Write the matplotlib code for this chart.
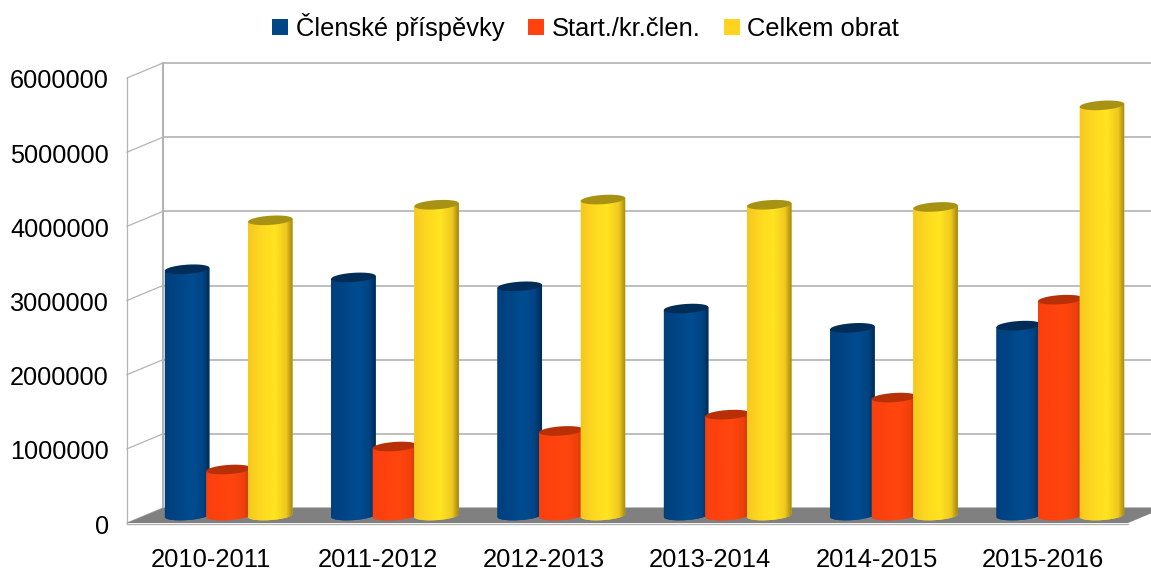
import numpy as np
import matplotlib
matplotlib.use("Agg")
import matplotlib.pyplot as plt
from matplotlib.colors import LinearSegmentedColormap
from matplotlib.patches import PathPatch, Patch, Polygon
from matplotlib.path import Path
from matplotlib.transforms import Affine2D

plt.rcParams["font.family"] = ["Liberation Sans", "DejaVu Sans"]

# Values
years = ["2010-2011", "2011-2012", "2012-2013", "2013-2014", "2014-2015", "2015-2016"]
clenske = [3320000, 3210000, 3090000, 2790000, 2530000, 2560000]
start_kr = [620000, 930000, 1140000, 1360000, 1590000, 2910000]
celkem = [3980000, 4190000, 4260000, 4190000, 4160000, 5530000]
y_ticks = [0, 1000000, 2000000, 3000000, 4000000, 5000000, 6000000]

W, H = 1151, 570
GRID = "#b3b3b3"
XMIN, XMAX = -0.5, 5.5

fig = plt.figure(figsize=(W / 100, H / 100), dpi=100)
ax = fig.add_axes([127 / W, (H - 523) / H, (1125 - 127) / W, (523 - 78) / H])
ax.patch.set_visible(False)
for s in ax.spines.values():
    s.set_visible(False)
ax.set_xlim(XMIN, XMAX)
ax.set_ylim(0, 6000000)

# depth offsets in pixels, for the back wall and for the plane of the bars
back = ax.transData + Affine2D().translate(36, 15)
mid = ax.transData + Affine2D().translate(18.5, 7.5)
px_tf = Affine2D()

for v in y_ticks:
    ax.plot([XMIN, 7], [v, v], color=GRID, lw=1.2, transform=back, clip_on=False, zorder=1)
    # side wall
    p0 = ax.transData.transform((XMIN, v))
    p1 = back.transform((XMIN, v))
    ax.plot([p0[0], p1[0]], [p0[1], p1[1]], color=GRID, lw=0.9, transform=px_tf,
            clip_on=False, zorder=1)
ax.plot([XMIN, XMIN], [0, 6000000], color=GRID, lw=0.9, clip_on=False, zorder=1)
ax.plot([XMIN, XMIN], [0, 6000000], color=GRID, lw=1.5, transform=back, clip_on=False, zorder=1)

# floor
fl0 = ax.transData.transform((XMIN, 0))
fl1 = ax.transData.transform((XMAX, 0)) + np.array([3, 0])
floor = Polygon([fl0, fl1, fl1 + np.array([36, 15]), fl0 + np.array([36, 15])],
                closed=True, facecolor="#808080", edgecolor="none", transform=px_tf,
                clip_on=False, zorder=2)
ax.add_patch(floor)
ax.plot([fl0[0], fl1[0]], [fl0[1] - 0.5, fl1[1] - 0.5], color=GRID, lw=1.0, transform=px_tf,
        clip_on=False, zorder=2)

series = [
    ("Členské příspěvky", clenske, -0.25, "#004586", "#002c58",
     ["#003f7c", "#004586", "#004c90", "#004484", "#002a52"]),
    ("Start./kr.člen.", start_kr, 0.0, "#ff420e", "#b83008",
     ["#f8400e", "#ff420e", "#ff460e", "#f0400c", "#b83008"]),
    ("Celkem obrat", celkem, 0.25, "#ffd320", "#a89214",
     ["#f5c820", "#ffd920", "#ffe420", "#f0c81e", "#9c8412"]),
]

BAR_W = 0.268
ELL = 62000  # half height of the cylinder ends, in data units
SLOPE = 150000  # the ends are tilted a little, data units per x unit

z = 3
for name, vals, off, base, top_col, grad in series:
    cmap = LinearSegmentedColormap.from_list(name, list(zip([0, 0.3, 0.6, 0.85, 1], grad)))
    for i in range(len(years)):
        v = vals[i]
        xc = i + off
        x0 = xc - BAR_W / 2
        x1 = xc + BAR_W / 2
        # outline: sides plus the lower half of the bottom ellipse
        t = np.linspace(np.pi, 2 * np.pi, 40)
        bx = xc + BAR_W / 2 * np.cos(t)
        by = ELL * np.sin(t) + SLOPE * (bx - xc)
        px = np.r_[x0, bx, x1, x0]
        py = np.r_[v - SLOPE * BAR_W / 2, by, v + SLOPE * BAR_W / 2, v - SLOPE * BAR_W / 2]
        body = PathPatch(Path(np.c_[px, py]), facecolor=base, edgecolor="none",
                         transform=mid, zorder=z, clip_on=False)
        ax.add_patch(body)
        im = ax.imshow(np.linspace(0, 1, 256).reshape(1, -1), cmap=cmap, aspect="auto",
                       extent=(x0, x1, -3 * ELL, v + 2 * ELL), transform=mid, zorder=z + 0.1,
                       interpolation="bilinear")
        im.set_clip_path(body)
        t = np.linspace(0, 2 * np.pi, 60)
        tx = xc + BAR_W / 2 * np.cos(t)
        ty = v + ELL * np.sin(t) + SLOPE * (tx - xc)
        top = Polygon(np.c_[tx, ty], closed=True, facecolor=top_col, edgecolor="none",
                      transform=mid, zorder=z + 0.2, clip_on=False)
        ax.add_patch(top)
    z += 1

ax.set_xlim(XMIN, XMAX)
ax.set_ylim(0, 6000000)
ax.set_xticks(range(len(years)))
ax.set_xticklabels(years, fontsize=18.4)
ax.set_yticks(y_ticks)
ax.set_yticklabels([str(v) for v in y_ticks], fontsize=18.2)
ax.tick_params(axis="x", length=0, pad=18, colors="black")
ax.tick_params(axis="y", length=0, pad=13, colors="black")
# nudge the labels by a pixel
for lab in ax.get_xticklabels():
    lab.set_transform(lab.get_transform() + Affine2D().translate(1, 0))
for lab in ax.get_yticklabels():
    lab.set_transform(lab.get_transform() + Affine2D().translate(0, -1))

handles = [Patch(facecolor=s[3], edgecolor="none", label=s[0]) for s in series]
fig.legend(handles=handles, ncol=3, frameon=False, fontsize=18.4, loc="center",
           bbox_to_anchor=(585.5 / W, (H - 27) / H), handlelength=0.63, handleheight=0.63,
           handletextpad=0.3, columnspacing=0.92, borderpad=0, borderaxespad=0)

fig.savefig("out.png", dpi=100)
